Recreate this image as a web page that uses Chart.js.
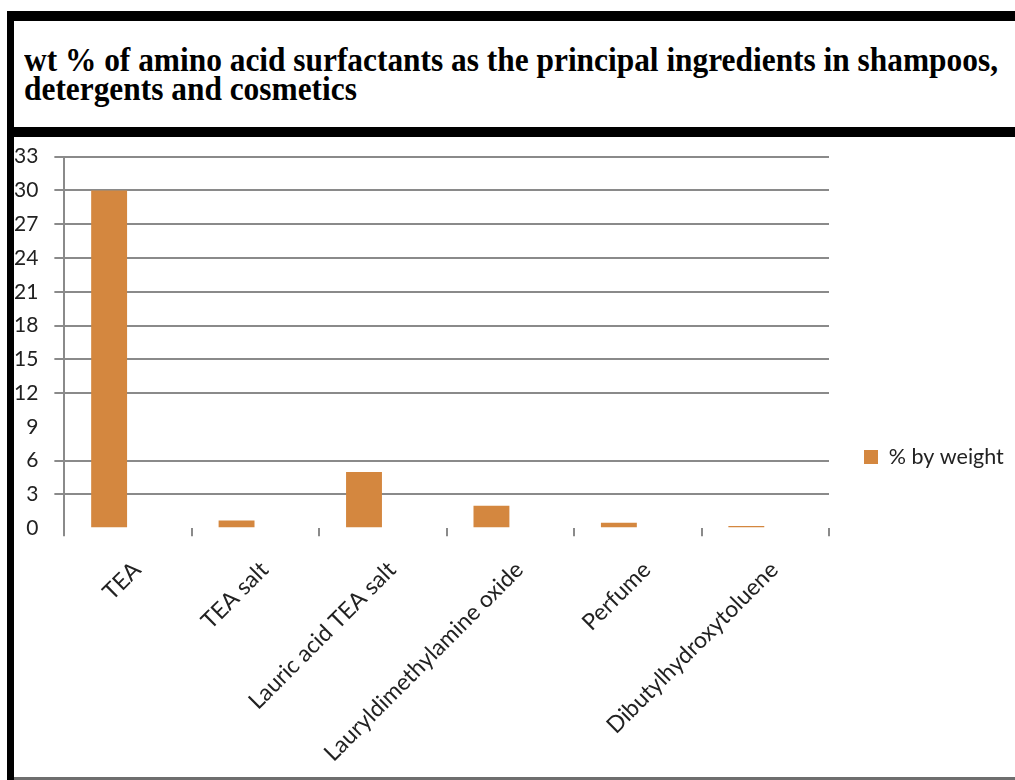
<!DOCTYPE html>
<html>
<head>
<meta charset="utf-8">
<script src="https://cdn.jsdelivr.net/npm/chart.js@4.4.1/dist/chart.umd.min.js"></script>
<style>
  html, body { margin: 0; padding: 0; background: #fff; width: 1015px; height: 780px; overflow: hidden; }
  #titleBox { position: absolute; left: 7px; top: 11px; width: 1100px; height: 106px;
    border-top: 10px solid #000; border-left: 7px solid #000; border-bottom: 10px solid #000; }
  #titleText { position: absolute; left: 24px; top: 46px; white-space: nowrap;
    font-family: "Liberation Serif", "Times New Roman", serif; font-weight: bold; font-size: 33px;
    line-height: 28.5px; color: #000; transform-origin: 0 0; }
  #leftBorder { position: absolute; left: 7px; top: 137px; width: 7px; height: 643px; background: #000; }
  #bottomLine { position: absolute; left: 14px; top: 777px; width: 1001px; height: 3px; background: #6e6e6e; }
  #wrap { position: absolute; left: 14px; top: 137px; width: 1001px; height: 640px; }
</style>
</head>
<body>
<div id="titleBox"></div>
<div id="titleText"><span id="line1">wt % of amino acid surfactants as the principal ingredients in shampoos,</span><br><span>detergents and cosmetics</span></div>
<div id="leftBorder"></div>
<div id="bottomLine"></div>
<div id="wrap"><canvas id="c" width="1001" height="640"></canvas></div>
<script>
// ---- data ----
const categories = ["TEA", "TEA salt", "Lauric acid TEA salt", "Lauryldimethylamine oxide", "Perfume", "Dibutylhydroxytoluene"];
const seriesName = "% by weight";
const weightValues = [30, 0.7, 5, 2, 0.5, 0.2];
const yTickMin = 0, yTickMax = 33, yTickStep = 3;
const hiddenGridValues = [0, 9];

// ---- title scaling ----
(function () {
  const l1 = document.getElementById('line1');
  const w = l1.getBoundingClientRect().width;
  document.getElementById('titleText').style.transform = 'scaleX(' + (974 / w) + ')';
})();

const fam = "Lato, 'Open Sans', sans-serif";
const xFont = { family: fam, size: 23 };
const yFont = { family: fam, size: 21 };
const legendFont = { family: fam, size: 21.5 };
const mctx = document.createElement('canvas').getContext('2d');
mctx.font = legendFont.size + 'px ' + fam;
const legendTextW = mctx.measureText(seriesName).width;
const boxW = 14;
const itemW = boxW + legendFont.size / 2 + legendTextW;
const padRight = Math.max(0, 1001 - 850 - itemW - 10);

const gridGray = '#8a8a8a';
const barColor = '#D4873F';

new Chart(document.getElementById('c'), {
  type: 'bar',
  data: {
    labels: categories,
    datasets: [
      { label: seriesName, data: weightValues, backgroundColor: barColor, borderWidth: 0,
        categoryPercentage: 0.595, barPercentage: 0.947 },
      { label: '_spacer', data: categories.map(() => null), backgroundColor: 'rgba(0,0,0,0)',
        categoryPercentage: 0.595, barPercentage: 0.947 }
    ]
  },
  options: {
    responsive: false,
    devicePixelRatio: 1,
    animation: false,
    layout: { padding: { top: 0, right: padRight, bottom: 0, left: 0 } },
    plugins: {
      title: { display: false },
      tooltip: { enabled: false },
      legend: {
        position: 'right',
        labels: {
          filter: (item) => item.text !== '_spacer',
          font: legendFont, color: '#222',
          boxWidth: boxW, boxHeight: boxW, padding: 35
        }
      }
    },
    scales: {
      x: {
        afterFit: (s) => { s.paddingLeft = 0; s.paddingRight = 0; s.height = s.height - s.options.ticks.padding + 10; },
        grid: { display: true, drawOnChartArea: false, drawTicks: true, tickLength: 8,
          color: gridGray, lineWidth: 2, offset: true },
        border: { display: false },
        ticks: { font: xFont, color: '#222', maxRotation: 45, minRotation: 45,
          autoSkip: false, padding: 20, labelOffset: 9 }
      },
      y: {
        afterFit: (s) => { s.width -= s.options.ticks.padding; s.paddingTop -= 9; },
        min: yTickMin, max: yTickMax,
        ticks: { stepSize: yTickStep, font: yFont, color: '#222', padding: 16 },
        grid: { tickLength: 10, lineWidth: 2,
          color: (ctx) => (ctx.tick && hiddenGridValues.includes(ctx.tick.value)) ? 'rgba(0,0,0,0)' : gridGray },
        border: { display: true, color: gridGray, width: 2 }
      }
    }
  }
});
</script>
</body>
</html>
